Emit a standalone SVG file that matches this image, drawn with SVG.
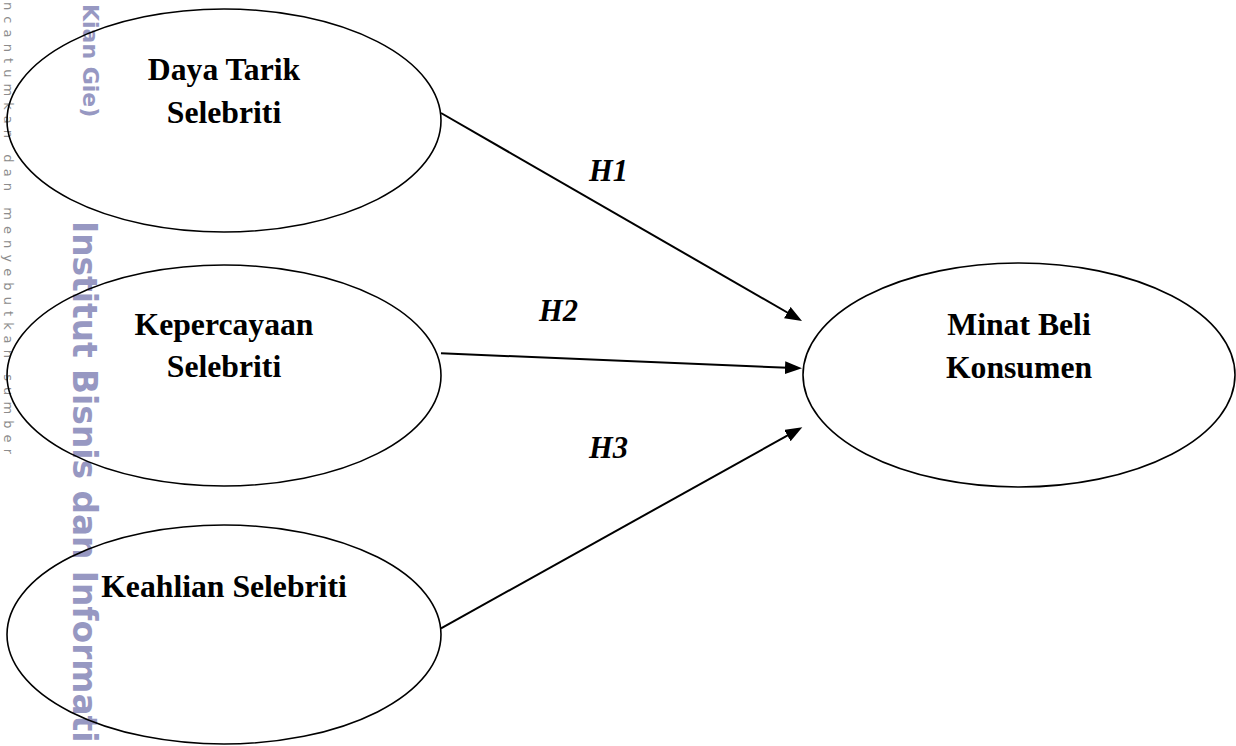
<svg xmlns="http://www.w3.org/2000/svg" width="1236" height="746" viewBox="0 0 1236 746">
  <style>
    .node { fill: none; stroke: #000; stroke-width: 1.6; }
    .lbl { font-family: "Liberation Serif", "Times New Roman", serif; font-weight: bold; font-size: 31.7px; fill: #000; text-anchor: middle; }
    .hyp { font-family: "Liberation Serif", "Times New Roman", serif; font-weight: bold; font-style: italic; font-size: 30.5px; fill: #000; }
    .edge { fill: none; stroke: #000; stroke-width: 2; }
    .wm { font-family: "DejaVu Sans", Verdana, sans-serif; font-weight: bold; fill: #9798c2; }
    .wm-thin { font-family: "DejaVu Sans", Verdana, sans-serif; font-size: 13px; fill: #8c8c8c; }
  </style>
  <defs>
    <marker id="arrow" markerUnits="userSpaceOnUse" markerWidth="18" markerHeight="14" refX="9" refY="6.5" orient="auto">
      <path d="M0,0 L17,6.5 L0,13 z" fill="#000"/>
    </marker>
  </defs>
  <rect width="1236" height="746" fill="#fff"/>

  <g id="watermark">
    <text class="wm-thin" transform="translate(4,2) rotate(90)" x="0" y="0" textLength="452" lengthAdjust="spacing">ncantumkan dan menyebutkan sumber</text>
    <text class="wm" font-size="22" transform="translate(83,4) rotate(90)" x="0" y="0">Kian Gie)</text>
    <text class="wm" font-size="32.8" transform="translate(73,221) rotate(90)" x="0" y="0">Institut Bisnis dan Informati</text>
  </g>

  <g id="connectors">
    <path class="edge" d="M441,113 L795.1,317" marker-end="url(#arrow)"/>
    <path class="edge" d="M441,353.3 L794,368" marker-end="url(#arrow)"/>
    <path class="edge" d="M441,628.3 L795.3,431.2" marker-end="url(#arrow)"/>
    <text class="hyp" x="589" y="181">H1</text>
    <text class="hyp" x="539" y="320.7">H2</text>
    <text class="hyp" x="589" y="458">H3</text>
  </g>

  <g id="daya-tarik">
    <ellipse class="node" cx="224" cy="120.5" rx="217" ry="111.5"/>
    <text class="lbl" x="224" y="80">Daya Tarik</text>
    <text class="lbl" x="224" y="122.7">Selebriti</text>
  </g>

  <g id="kepercayaan">
    <ellipse class="node" cx="224" cy="375.5" rx="217" ry="110.5"/>
    <text class="lbl" x="224" y="335">Kepercayaan</text>
    <text class="lbl" x="224" y="376.7">Selebriti</text>
  </g>

  <g id="keahlian">
    <ellipse class="node" cx="224" cy="634.5" rx="217" ry="109.5"/>
    <text class="lbl" x="224" y="596.7">Keahlian Selebriti</text>
  </g>

  <g id="minat-beli">
    <ellipse class="node" cx="1019" cy="375" rx="216" ry="112"/>
    <text class="lbl" x="1019" y="335">Minat Beli</text>
    <text class="lbl" x="1019" y="377.7">Konsumen</text>
  </g>
</svg>
